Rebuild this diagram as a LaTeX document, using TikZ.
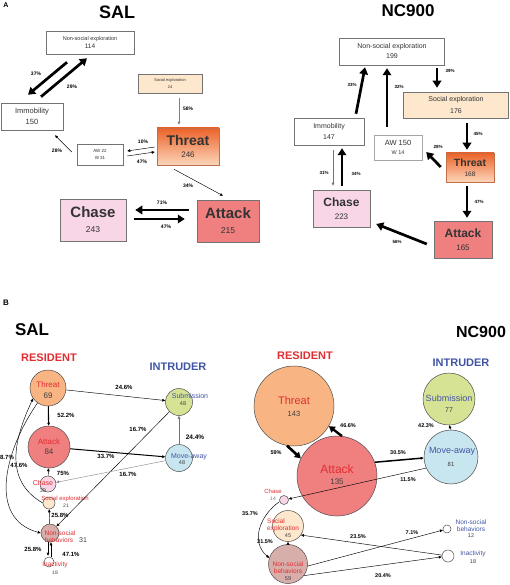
\documentclass[tikz,border=0pt]{standalone}
\usepackage{fontspec}
\setmainfont{Liberation Sans}
\usepackage{xcolor}
\usetikzlibrary{arrows.meta, calc}
\definecolor{socfill}{RGB}{253,231,205}
\definecolor{chasefill}{RGB}{248,214,232}
\definecolor{attfill}{RGB}{240,128,128}
\definecolor{thrtop}{RGB}{236,98,40}
\definecolor{thrbot}{RGB}{252,214,186}
\definecolor{thrfill}{RGB}{248,180,130}
\definecolor{subfill}{RGB}{214,226,148}
\definecolor{movfill}{RGB}{200,230,240}
\definecolor{nonfill}{RGB}{216,174,170}
\definecolor{resred}{RGB}{225,45,50}
\definecolor{intblue}{RGB}{65,85,165}
\newcommand\fsz[1]{\fontsize{#1}{#1}\selectfont}
\newcommand\fsl[2]{\fontsize{#1}{#2}\selectfont}

\begin{document}
\begin{tikzpicture}[x=1pt, y=-1pt,
    >={Triangle[length=3pt,width=2.6pt]},
    box/.style={draw=black!55, line width=0.5pt, align=center, inner sep=0pt, text=black!80},
    pct/.style={font=\bfseries\fsz{5}, inner sep=0pt},
    pctb/.style={font=\bfseries\fsz{6}, inner sep=0pt},
    fat/.style={-{Triangle[length=7pt,width=8.5pt]}, line width=2.7pt},
    slim/.style={->, line width=0.45pt},
    state/.style={circle, draw=black!70, line width=0.5pt, inner sep=0pt},
    rlab/.style={text=resred, inner sep=0pt, align=center},
    blab/.style={text=intblue, inner sep=0pt, align=center},
    num/.style={text=black!75, inner sep=0pt},
]
\path[use as bounding box, fill=white] (0,0) rectangle (510,585);

% ---- A: SAL
\node[font=\bfseries\fsz{7}] (labA) at (6,5) {A};
\node[font=\bfseries\fsz{18}] (salA) at (117,12) {SAL};
\node[box, font=\fsl{5.5}{8.5}, minimum width=88pt, minimum height=23pt] (nse1) at (90,42.5) {Non-social exploration\\{\fsl{6.5}{8.5}114}};
\node[box, font=\fsl{4}{6.3}, fill=socfill, minimum width=64pt, minimum height=19pt] (soc1) at (170,83.5) {Social exploration\\24};
\node[box, font=\fsl{7.5}{11}, minimum width=62pt, minimum height=27pt] (imm1) at (32,116.5) {Immobility\\150};
\node[box, font=\fsl{8}{12.5}, draw=thrtop!60!gray, top color=thrtop, bottom color=thrbot, minimum width=62pt, minimum height=37pt] (thr1) at (188,146.5) {{\bfseries\fsl{14}{12.5}Threat}\\246};
\node[box, font=\fsl{4.5}{7}, minimum width=46pt, minimum height=21pt] (aw1) at (100,154.5) {AW 22\\W 31};
\node[box, font=\fsl{8.5}{15}, fill=chasefill, minimum width=66pt, minimum height=42pt] (cha1) at (93,220) {{\bfseries\fsl{15}{15}Chase}\\243};
\node[box, font=\fsl{8.5}{15}, fill=attfill, minimum width=62pt, minimum height=42pt] (att1) at (228,221) {{\bfseries\fsl{15}{15}Attack}\\215};

\draw[fat] ($(nse1.south)+(-23,8)$) -- ($(imm1.north)+(-4,-8)$);
\draw[fat] ($(imm1.north)+(9,-6)$) -- ($(nse1.south)+(-3,4)$);
\draw[->, line width=0.9pt, black!50] ($(soc1.south)+(9,5)$) -- ($(thr1.north)+(-9,-3)$);
\draw[slim] ($(thr1.west)+(-2,0.5)$) -- ($(aw1.east)+(4,-3.5)$);
\draw[slim] ($(aw1.east)+(4,1.5)$) -- ($(thr1.west)+(-2,5.5)$);
\draw[slim] ($(aw1.west)+(-5,-2.5)$) -- ($(imm1.south)+(23,5)$);
\draw[slim] ($(thr1.south)+(-14,4)$) -- ($(att1.north)+(-5,-4)$);
\draw[fat] ($(att1.west)+(-8,-11)$) -- ($(cha1.east)+(9,-10)$);
\draw[fat] ($(cha1.east)+(8,-1)$) -- ($(att1.west)+(-12,-2)$);
\node[pct] (p1) at (36,74) {37\%};
\node[pct] (p2) at (72,87) {29\%};
\node[pct] (p3) at (188,109) {58\%};
\node[pct] (p4) at (143,142) {10\%};
\node[pct] (p5) at (142,162) {47\%};
\node[pct] (p6) at (57,151) {28\%};
\node[pct] (p7) at (188,186) {34\%};
\node[pct] (p8) at (162,203) {71\%};
\node[pct] (p9) at (166,227) {47\%};

% ---- A: NC900
\node[font=\bfseries\fsz{17}] (ncA) at (408,11) {NC900};
\node[box, font=\fsl{7}{10}, minimum width=105pt, minimum height=27pt] (nse2) at (392,51.5) {Non-social exploration\\199};
\node[box, font=\fsl{7}{11}, fill=socfill, minimum width=105pt, minimum height=26pt] (soc2) at (456,105) {Social exploration\\176};
\node[box, font=\fsl{7}{10.7}, minimum width=70pt, minimum height=27pt] (imm2) at (329,131.5) {Immobility\\147};
\node[box, font=\fsl{5.5}{9.5}, draw=black!35, minimum width=48pt, minimum height=25pt] (aw2) at (398,147.5) {{\fsl{7.5}{9.5}AW 150}\\W 14};
\node[box, font=\fsl{6.5}{9.6}, draw=thrtop!60!gray, top color=thrtop, bottom color=thrbot, minimum width=48pt, minimum height=29pt] (thr2) at (470,167.5) {{\bfseries\fsl{10.5}{9.6}Threat}\\168};
\node[box, font=\fsl{8}{13.6}, fill=chasefill, minimum width=57pt, minimum height=37pt] (cha2) at (341.5,208.5) {{\bfseries\fsl{12}{13.6}Chase}\\223};
\node[box, font=\fsl{8}{13}, fill=attfill, minimum width=58pt, minimum height=37pt] (att2) at (463,239.5) {{\bfseries\fsl{12}{13}Attack}\\165};

\draw[fat] ($(imm2.north)+(27,-4)$) -- ($(nse2.south)+(-27,2)$);
\draw[fat] ($(aw2.north)+(-11,-8)$) -- ($(nse2.south)+(-5,3)$);
\draw[fat] ($(nse2.south)+(45,3)$) -- ($(soc2.north)+(-19,-4)$);
\draw[fat] ($(soc2.south)+(11,5)$) -- ($(thr2.north)+(-3,-3)$);
\draw[fat] ($(thr2.west)+(-5,-0.5)$) -- ($(aw2.east)+(4,4.5)$);
\draw[->, line width=0.7pt, black!55] ($(imm2.south)+(4,5)$) -- ($(cha2.north)+(-8.5,-4)$);
\draw[fat] ($(cha2.north)+(0.5,-4)$) -- ($(imm2.south)+(13,3)$);
\draw[fat] ($(thr2.south)+(-3,4)$) -- ($(att2.north)+(4,-3)$);
\draw[fat] ($(att2.west)+(-7,4.5)$) -- ($(cha2.east)+(6,15.5)$);
\node[pct, font=\bfseries\fsz{4.5}] (q1) at (352,85) {33\%};
\node[pct, font=\bfseries\fsz{4.5}] (q2) at (399,87) {32\%};
\node[pct, font=\bfseries\fsz{4.5}] (q3) at (450,71) {39\%};
\node[pct, font=\bfseries\fsz{4.5}] (q4) at (478,134) {45\%};
\node[pct, font=\bfseries\fsz{4.5}] (q5) at (438,147) {28\%};
\node[pct, font=\bfseries\fsz{4.5}] (q6) at (324,173) {31\%};
\node[pct, font=\bfseries\fsz{4.5}] (q7) at (356,174) {34\%};
\node[pct, font=\bfseries\fsz{4.5}] (q8) at (479,202) {47\%};
\node[pct, font=\bfseries\fsz{4.5}] (q9) at (397,242) {56\%};

% ---- B: SAL
\node[font=\bfseries\fsz{8}] (labB) at (6,303) {B};
\node[font=\bfseries\fsz{17}] (salB) at (32,330) {SAL};
\node[font=\bfseries\fsz{11}, text=resred] (resB1) at (49,358) {RESIDENT};
\node[font=\bfseries\fsz{11}, text=intblue] (intB1) at (178,367) {INTRUDER};
\node[state, fill=thrfill, minimum size=36pt] (thr3) at (48,388) {};
\node[state, fill=subfill, minimum size=27pt] (sub3) at (179,402) {};
\node[state, fill=attfill, minimum size=42pt] (att3) at (49,447) {};
\node[state, fill=movfill, minimum size=27pt] (mov3) at (179,458) {};
\node[state, fill=chasefill, minimum size=16pt] (cha3) at (48,484) {};
\node[state, fill=socfill, minimum size=12pt] (soc3) at (49,503) {};
\node[state, fill=nonfill, minimum size=18pt] (non3) at (50,533) {};
\node[state, fill=white, minimum size=10pt] (ina3) at (49,562) {};
\node[rlab, font=\fsz{8}] (thr3t) at (48,385) {Threat};
\node[num, font=\fsz{8}] (thr3n) at (48,396) {69};
\node[blab, font=\fsz{7}] (sub3t) at (190,396) {Submission};
\node[num, font=\fsz{5.5}] (sub3n) at (183,404) {48};
\node[rlab, font=\fsz{8}] (att3t) at (49,442) {Attack};
\node[num, font=\fsz{8}] (att3n) at (49,452) {84};
\node[blab, font=\fsz{7}] (mov3t) at (189,457) {Move-away};
\node[num, font=\fsz{5.5}] (mov3n) at (182,463) {48};
\node[rlab, font=\fsz{7}] (cha3t) at (43,483) {Chase};
\node[num, font=\fsz{5.5}] (cha3n) at (43,491) {39};
\node[rlab, font=\fsz{6}] (soc3t) at (65,499) {Social exploration};
\node[num, font=\fsz{5}] (soc3n) at (66,506) {21};
\node[rlab, font=\fsz{6.5}] (non3t) at (60,533) {Non-social};
\node[rlab, font=\fsz{6.5}] (non3u) at (59,540) {behaviors};
\node[num, font=\fsz{7}] (non3n) at (83,540) {31};
\node[rlab, font=\fsz{6.5}] (ina3t) at (55,565) {Inactivity};
\node[num, font=\fsz{5}] (ina3n) at (55,573) {18};

\draw[slim] (thr3) -- (sub3);
\draw[->, line width=1.1pt] (thr3) -- (att3);
\draw[->, line width=1pt] (att3) -- (mov3);
\draw[slim, black!55] (mov3) -- (sub3);
\draw[slim] (sub3) -- (non3);
\draw[slim, black!45] (mov3) -- (cha3);
\draw[slim] (cha3) -- (att3);
\draw[slim] (non3) -- (soc3);
\draw[slim] ($(non3.south)+(-2,0)$) -- ($(ina3.north)+(-1,-1)$);
\draw[slim] ($(ina3.north)+(2,0)$) -- ($(non3.south)+(1,0)$);
\draw[slim] (thr3.235) to[out=235, in=165, looseness=1.1] (non3.west);
\draw[slim] (soc3.west) to[out=150, in=245, looseness=1.1] (thr3.215);
\node[pctb] (r1) at (124,387) {24.6\%};
\node[pctb] (r2) at (66,415) {52.2\%};
\node[pctb] (r3) at (106,456) {33.7\%};
\node[pctb, font=\bfseries\fsz{6.5}] (r4) at (195,437) {24.4\%};
\node[pctb] (r5) at (138,429) {16.7\%};
\node[pctb] (r6) at (128,474) {16.7\%};
\node[pctb] (r7) at (63,473) {75\%};
\node[pctb] (r8) at (60,515) {25.8\%};
\node[pctb] (r9) at (33,549) {25.8\%};
\node[pctb] (r10) at (71,554) {47.1\%};
\node[pctb] (r11) at (7,457) {8.7\%};
\node[pctb] (r12) at (19,465) {47.6\%};

% ---- B: NC900
\node[font=\bfseries\fsz{16}] (ncB) at (481,332) {NC900};
\node[font=\bfseries\fsz{11}, text=resred] (resB2) at (305,356) {RESIDENT};
\node[font=\bfseries\fsz{11}, text=intblue] (intB2) at (461,363) {INTRUDER};
\node[state, fill=thrfill, minimum size=80pt] (thr4) at (294,406) {};
\node[state, fill=subfill, minimum size=52pt] (sub4) at (449,399) {};
\node[state, fill=attfill, minimum size=80pt] (att4) at (337,476) {};
\node[state, fill=movfill, minimum size=54pt] (mov4) at (451,457) {};
\node[state, fill=chasefill, minimum size=9pt] (cha4) at (284,500) {};
\node[state, fill=socfill, minimum size=31pt] (soc4) at (288,526) {};
\node[state, fill=nonfill, minimum size=39pt] (non4) at (288,564) {};
\node[state, fill=white, minimum size=8pt] (nsi4) at (447,529) {};
\node[state, fill=white, minimum size=12pt] (ina4) at (448,556) {};
\node[rlab, font=\fsz{11}] (thr4t) at (294,401) {Threat};
\node[num, font=\fsz{7.5}] (thr4n) at (294,414) {143};
\node[blab, font=\fsz{9}] (sub4t) at (449,398) {Submission};
\node[num, font=\fsz{7}] (sub4n) at (449,410) {77};
\node[rlab, font=\fsz{12}] (att4t) at (337,469) {Attack};
\node[num, font=\fsz{8}] (att4n) at (337,482) {135};
\node[blab, font=\fsz{9}] (mov4t) at (452,451) {Move-away};
\node[num, font=\fsz{6}] (mov4n) at (451,464) {81};
\node[rlab, font=\fsz{6}] (cha4t) at (273,491) {Chase};
\node[num, font=\fsz{5}, text=black!55] (cha4n) at (273,499) {14};
\node[rlab, font=\fsl{6.5}{7}, anchor=west, align=left] (soc4t) at (267,525.5) {Social\\exploration};
\node[num, font=\fsz{5.5}] (soc4n) at (288,536) {45};
\node[rlab, font=\fsl{6.5}{7}] (non4t) at (288,567.5) {Non-social\\behaviors};
\node[num, font=\fsz{5.5}] (non4n) at (288,579) {59};
\node[blab, font=\fsl{6.5}{7}] (nsi4t) at (471,525.5) {Non-social\\behaviors};
\node[num, font=\fsz{5.5}] (nsi4n) at (471,536) {12};
\node[blab, font=\fsz{6.5}] (ina4t) at (473,554) {Inactivity};
\node[num, font=\fsz{5.5}] (ina4n) at (473,562) {18};

\draw[-{Triangle[length=6pt,width=7pt]}, line width=2.6pt] (thr4.260) -- (att4.154);
\draw[-{Triangle[length=6pt,width=7pt]}, line width=2.4pt] (att4.83) -- (thr4.-30);
\draw[->, line width=1.5pt] (att4.20) -- (mov4.182);
\draw[slim] (mov4.north) -- (sub4.south);
\draw[slim] (mov4.204) -- (cha4);
\draw[slim] (cha4.200) to[out=215, in=140, looseness=1.1] (non4.162);
\draw[slim] (non4) -- (soc4);
\draw[slim] (ina4) -- (soc4.-35);
\draw[slim] (non4.-6) -- (nsi4);
\draw[slim] (non4.-36) -- (ina4);
\node[pct, font=\bfseries\fsz{5.5}] (s1) at (276,453) {59\%};
\node[pct, font=\bfseries\fsz{5.5}] (s2) at (348,426) {46.6\%};
\node[pct, font=\bfseries\fsz{5.5}] (s3) at (398,453) {30.5\%};
\node[pct, font=\bfseries\fsz{5.5}] (s4) at (426,426) {42.3\%};
\node[pct, font=\bfseries\fsz{5.5}] (s5) at (408,480) {11.5\%};
\node[pct, font=\bfseries\fsz{5.5}] (s6) at (250,514) {35.7\%};
\node[pct, font=\bfseries\fsz{5.5}] (s7) at (265,542) {31.5\%};
\node[pct, font=\bfseries\fsz{5.5}] (s8) at (358,537) {23.5\%};
\node[pct, font=\bfseries\fsz{5.5}] (s9) at (412,533) {7.1\%};
\node[pct, font=\bfseries\fsz{5.5}] (s10) at (383,576) {20.4\%};
\end{tikzpicture}
\end{document}
